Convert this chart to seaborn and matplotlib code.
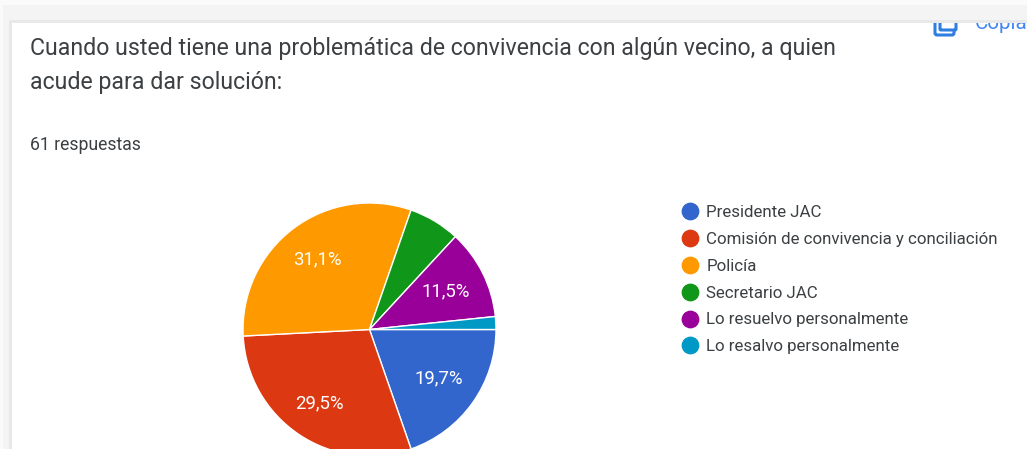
import matplotlib
matplotlib.use('Agg')
import matplotlib.pyplot as plt
from matplotlib.lines import Line2D
from matplotlib.patches import Rectangle, FancyBboxPatch
import seaborn as sns

# datos de la encuesta (61 respuestas)
categories = ['Presidente JAC', 'Comisión de convivencia y conciliación', 'Policía',
              'Secretario JAC', 'Lo resuelvo personalmente', 'Lo resalvo personalmente']
values = [12, 18, 19, 4, 7, 1]
colors = ['#3366cc', '#dc3912', '#ff9900', '#109618', '#990099', '#0099c6']
title_lines = ['Cuando usted tiene una problemática de convivencia con algún vecino, a quien',
               'acude para dar solución:']
subtitle = '61 respuestas'

W, H = 1027, 449
MIN_PCT = 10  # las porciones pequeñas no llevan etiqueta
PCT_DIST = 0.67
# ajuste radial de cada etiqueta respecto a PCT_DIST
label_push = [1.0, 1.05, 1.03, 1.0, 1.0, 1.0]

sns.set_theme(style='white')
plt.rcParams['font.family'] = ['Roboto', 'DejaVu Sans']
palette = sns.color_palette(colors)

fig = plt.figure(figsize=(W / 100, H / 100), dpi=100, facecolor='#fafafa')

# capa de fondo en pixeles
bg = fig.add_axes([0, 0, 1, 1], zorder=0)
bg.set_xlim(0, W)
bg.set_ylim(H, 0)
bg.axis('off')
bg.add_patch(Rectangle((3, 5), W, H, color='#f4f4f4', lw=0, zorder=1))
bg.add_patch(Rectangle((9, 20), W, H, color='#e8e8e8', lw=0, zorder=1))
bg.add_patch(Rectangle((12, 23), W, H, color='white', lw=0, zorder=2))

# icono y texto de copiar, cortados por el borde de la tarjeta
bg.add_patch(FancyBboxPatch((935, 17), 19, 18, boxstyle='round,pad=0,rounding_size=2',
                            fill=False, ec='#2f7de1', lw=2.2, zorder=3))
bg.add_patch(FancyBboxPatch((940, 10), 16, 20, boxstyle='round,pad=0,rounding_size=1',
                            fc='white', ec='#2f7de1', lw=2.2, zorder=3))
bg.text(975, 29, 'Copia', fontsize=14.8, color='#4285f4', zorder=3)
bg.add_patch(Rectangle((0, 0), W, 5, color='#fafafa', lw=0, zorder=4))
bg.add_patch(Rectangle((3, 5), W, 15, color='#f4f4f4', lw=0, zorder=4))
bg.add_patch(Rectangle((9, 20), W, 3, color='#e8e8e8', lw=0, zorder=4))

# titulo
bg.text(30, 49, title_lines[0], fontsize=16.65, color='#3c4043', va='center', zorder=5)
bg.text(30, 83, title_lines[1], fontsize=16.65, color='#3c4043', va='center', zorder=5)
bg.text(30, 145, subtitle, fontsize=12.7, color='#3c4043', va='center', zorder=5)

# pastel: centro y radio en pixeles
cx, cy, r = 369.5, 329.5, 126.5
ax = fig.add_axes([(cx - r) / W, (H - cy - r) / H, 2 * r / W, 2 * r / H], zorder=1)
ax.patch.set_alpha(0)
wedges, _, autotexts = ax.pie(
    values, colors=palette, startangle=0, counterclock=False, radius=1,
    autopct=lambda p: f'{p:.1f}%'.replace('.', ',') if p > MIN_PCT else '',
    pctdistance=PCT_DIST,
    wedgeprops={'edgecolor': 'white', 'linewidth': 1.0},
    textprops={'color': 'white', 'fontsize': 13.4},
)
for t, push in zip(autotexts, label_push):
    x, y = t.get_position()
    t.set_position((x * push, y * push))
ax.set_xlim(-1, 1)
ax.set_ylim(-1, 1)

# leyenda
handles = [Line2D([], [], ls='none', marker='o', ms=11.8, mfc=c, mec=c, label=n)
           for c, n in zip(palette, categories)]
fig.legend(handles=handles, loc='upper left', bbox_to_anchor=(674 / W, 1 - 205 / H),
           frameon=False, fontsize=12.2, labelcolor='#3c4043', handletextpad=0.0,
           labelspacing=0.70, borderpad=0, borderaxespad=0, handlelength=1.9)

fig.savefig('out.png', dpi=100)
